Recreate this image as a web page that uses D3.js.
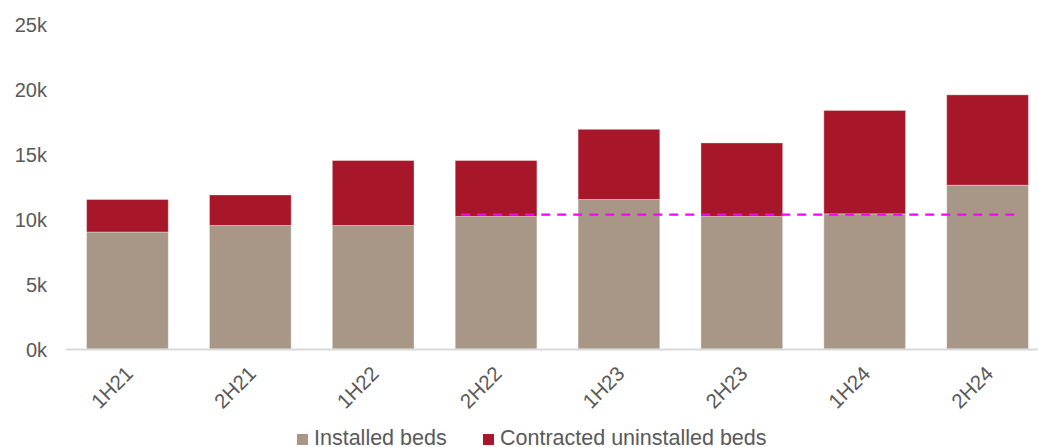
<!DOCTYPE html>
<html>
<head>
<meta charset="utf-8">
<script src="https://cdn.jsdelivr.net/npm/d3@7"></script>
<style>
  html, body { margin: 0; padding: 0; background: #fff; }
  svg { display: block; font-family: "Liberation Sans", Arial, sans-serif; }
</style>
</head>
<body>
<svg id="chart" width="1038" height="447"></svg>
<script>
// Half-year periods
const periods = ["1H21", "2H21", "1H22", "2H22", "1H23", "2H23", "1H24", "2H24"];
// Beds, in thousands
const installedBeds = [9.0, 9.5, 9.5, 10.2, 11.5, 10.2, 10.4, 12.6];
const contractedUninstalledBeds = [2.5, 2.35, 5.0, 4.3, 5.4, 5.65, 7.95, 6.95];
// Reference level for the dashed line (thousands)
const referenceLevel = 10.33;
const referenceFrom = "2H22";
const referenceTo = "2H24";
// Axis ticks
const yTicks = [0, 5, 10, 15, 20, 25];
const seriesNames = ["Installed beds", "Contracted uninstalled beds"];
const seriesColors = ["#a89686", "#a8162a"];

const svg = d3.select("#chart");
const textColor = "#595959";

const x = d3.scaleBand()
  .domain(periods)
  .range([66, 1049])
  .paddingInner(0.335)
  .paddingOuter(0.1675);

const y = d3.scaleLinear().domain([0, 25]).range([349, 24]);

// Y axis labels (no line, no ticks)
const yAxis = d3.axisLeft(y).tickValues(yTicks).tickFormat(d => d + "k").tickSize(0).tickPadding(0);
const yG = svg.append("g").attr("transform", "translate(47,0)").call(yAxis);
yG.select(".domain").remove();
yG.selectAll("text")
  .attr("fill", textColor)
  .style("font-size", "20px")
  .style("font-family", "'Liberation Sans', Arial, sans-serif")
  .attr("dy", "0.36em");

// Stacked bars
const rows = periods.map((p, i) => ({ period: p, installed: installedBeds[i], contracted: contractedUninstalledBeds[i] }));
const stack = d3.stack().keys(["installed", "contracted"]);
const layers = stack(rows);

svg.append("g").selectAll("g")
  .data(layers)
  .join("g")
  .attr("fill", (d, i) => seriesColors[i])
  .selectAll("rect")
  .data(d => d)
  .join("rect")
  .attr("x", d => x(d.data.period))
  .attr("width", x.bandwidth())
  .attr("y", d => y(d[1]))
  .attr("height", d => y(d[0]) - y(d[1]))
  .attr("stroke", "rgba(255,255,255,0.35)")
  .attr("stroke-width", 1);

// Category axis
const xAxis = d3.axisBottom(x).tickSize(0).tickPadding(0);
const xG = svg.append("g").attr("transform", `translate(0,${y(0)})`).call(xAxis);
xG.select(".domain").attr("stroke", "#d9d9d9").attr("stroke-width", 2)
  .attr("d", `M66,0.5H1049`);
xG.selectAll("text")
  .attr("fill", textColor)
  .style("font-size", "20.5px")
  .style("font-family", "'Liberation Sans', Arial, sans-serif")
  .attr("text-anchor", "end")
  .attr("dy", null)
  .attr("y", null)
  .attr("transform", "translate(7,26) rotate(-45)");

// Dashed reference line
svg.append("line")
  .attr("x1", x(referenceFrom) + 6)
  .attr("x2", x(referenceTo) + x.bandwidth() - 8)
  .attr("y1", y(referenceLevel))
  .attr("y2", y(referenceLevel))
  .attr("stroke", "#ff00ff")
  .attr("stroke-width", 2.3)
  .attr("stroke-dasharray", "9,7");

// Legend
const legend = svg.append("g");
const legendItems = [
  { name: seriesNames[0], color: seriesColors[0], x: 297 },
  { name: seriesNames[1], color: seriesColors[1], x: 483 }
];
const li = legend.selectAll("g").data(legendItems).join("g")
  .attr("transform", d => `translate(${d.x},0)`);
li.append("rect").attr("x", 0).attr("y", 434).attr("width", 11).attr("height", 11).attr("fill", d => d.color);
li.append("text")
  .attr("x", 17).attr("y", 445)
  .attr("fill", textColor)
  .style("font-size", "21.5px")
  .text(d => d.name);
</script>
</body>
</html>
